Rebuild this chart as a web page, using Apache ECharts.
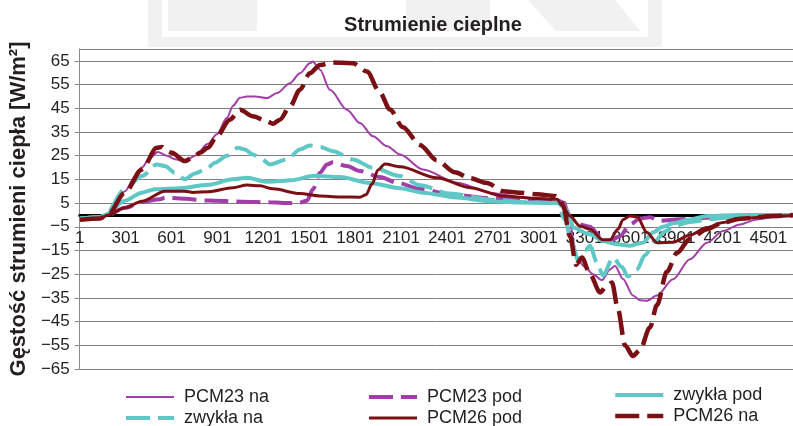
<!DOCTYPE html>
<html>
<head>
<meta charset="utf-8">
<script src="https://cdn.jsdelivr.net/npm/echarts@6/dist/echarts.min.js"></script>
<style>
html,body{margin:0;padding:0;background:#fff;}
#chart{width:793px;height:426px;}
</style>
</head>
<body>
<div id="chart"></div>
<script>
// time index (x) and heat flux density (y) pairs
const pcm23Na = [[1,-1.5],[132,-1],[184,0],[230,4],[295,10],[360,16],[406,20],[458,24],[511,26.5],[570,25],[622,23.5],[687,22.7],[753,25],[838,30],[896,34],[962,41],[1001,46],[1047,49.4],[1093,50],[1145,50],[1223,49.3],[1289,51.4],[1374,55.6],[1439,59.8],[1504,64],[1524,64.7],[1550,63],[1570,61.2],[1635,52.8],[1746,44.4],[1831,38.8],[1916,33.2],[2008,29],[2093,25.5],[2243,19.2],[2465,13.6],[2681,9.4],[2896,7.3],[3119,6.6],[3171,5.5],[3204,-2],[3223,-10],[3243,-17.9],[3302,-22],[3354,-25],[3413,-27.5],[3465,-23],[3498,-21.5],[3550,-27],[3615,-34],[3661,-36],[3707,-36.2],[3772,-34],[3877,-27.1],[3988,-18.7],[4099,-11.7],[4204,-6.8],[4315,-4],[4426,-1.9],[4531,-1],[4661,-0.5]];
const pcm23Pod = [[1,-1.5],[132,-1],[184,0],[295,3],[406,5.5],[524,6.6],[557,7.3],[655,6.9],[838,6.1],[1060,5.6],[1243,5.3],[1374,5.0],[1420,4.9],[1485,6],[1524,10.8],[1570,17.8],[1616,21.3],[1655,22.2],[1746,20.6],[1830,18.5],[1962,16],[2073,13.6],[2223,11],[2439,8.5],[2681,7],[2942,6.2],[3119,6],[3171,3],[3217,-2],[3269,-4],[3334,-5],[3400,-9],[3465,-11],[3530,-9],[3596,-4],[3661,-1.5],[3726,-1],[3792,-2.5],[3922,-1.8],[4184,-1],[4446,-0.5],[4661,-0.2]];
const zwyklaPod = [[1,-1.5],[132,-1],[164,0],[295,6],[406,9.4],[491,10.8],[655,11.3],[838,12.7],[1001,15],[1093,15.7],[1223,14],[1308,14.3],[1374,14.6],[1537,16.5],[1700,16],[1896,13.5],[2093,11.3],[2243,9.4],[2465,7.3],[2681,5.8],[2896,5.2],[3119,5],[3171,3],[3204,-1],[3223,-5.3],[3334,-8.2],[3419,-11],[3510,-12.4],[3596,-13],[3681,-11.7],[3746,-7.4],[3811,-5],[3877,-3.5],[3988,-1.9],[4099,-0.5],[4315,0],[4661,0]];
const zwyklaNa = [[1,-1.5],[132,-1],[164,0],[295,10.8],[406,16.4],[504,21.3],[557,20.6],[622,17.8],[687,15],[753,17.5],[831,19.5],[883,22],[962,25],[1034,28.3],[1079,27.6],[1132,25.5],[1191,23.4],[1243,21.3],[1354,23.4],[1439,27.6],[1504,29.3],[1570,28.7],[1655,26.9],[1785,23.4],[1916,19.9],[2093,16.4],[2223,12.5],[2419,9],[2681,6.5],[2942,5.3],[3119,5],[3171,-2],[3217,-12],[3256,-19],[3302,-15],[3334,-13],[3380,-20],[3419,-25.5],[3485,-18],[3543,-22],[3582,-26],[3642,-23],[3693,-17],[3759,-11],[3824,-7],[3890,-4.5],[3988,-3],[4118,-1.8],[4315,-0.7],[4661,0]];
const pcm26Pod = [[1,-2],[132,-1.5],[184,0],[295,3],[406,5.8],[557,10],[687,10],[740,9.5],[838,9.8],[1001,11.5],[1093,12.6],[1178,12.3],[1262,11],[1439,9],[1570,8],[1700,7.6],[1831,7.5],[1870,8.5],[1910,13],[1949,19],[1994,21.5],[2093,20.3],[2334,15.7],[2550,11.5],[2766,8],[2988,6.9],[3119,6.6],[3151,4],[3204,-0.5],[3269,-4.7],[3334,-6],[3419,-10.5],[3465,-10.5],[3517,-6],[3550,-2],[3596,-0.5],[3642,-0.8],[3707,-7.4],[3772,-11.7],[3877,-11.5],[3988,-8.5],[4099,-5.3],[4204,-3.2],[4315,-1.6],[4531,-0.5],[4661,-0.2]];
const pcm26Na = [[1,-2],[132,-1.5],[184,0],[295,9.4],[406,19.2],[504,28.3],[537,28.7],[570,26.9],[602,26.2],[687,22.7],[753,24.8],[785,26.2],[838,28.3],[896,33.2],[981,40.2],[1047,44.4],[1132,41.6],[1223,39.5],[1262,38.5],[1308,40.2],[1374,45.8],[1439,52.8],[1504,59.8],[1570,63.3],[1655,64.3],[1785,64],[1877,60.5],[1962,51.5],[2027,44.5],[2112,37],[2223,29.5],[2334,23],[2452,18],[2550,15.5],[2661,13.5],[2766,10],[2877,9.4],[2988,8.7],[3105,8],[3138,7],[3158,4],[3204,-9],[3243,-21],[3282,-18],[3334,-25],[3400,-32.7],[3445,-29.9],[3478,-28.5],[3517,-39.7],[3563,-55],[3615,-59.5],[3661,-57],[3726,-47.5],[3772,-38],[3837,-24],[3903,-16],[3988,-10],[4099,-6],[4204,-3.2],[4315,-1.6],[4531,-0.5],[4661,0]];

const seriesNames = ['PCM23 na','PCM23 pod','zwykła pod','zwykła na','PCM26 pod','PCM26 na'];
const xTickStep = 300;
const xMax = 4661;
const yMin = -65, yMax = 70, yStep = 10;

const PURPLE = '#a23ea8', CYAN = '#5fc8c6', DARKRED = '#7a1014';
const FONT = '"Liberation Sans", Arial, sans-serif';
const TXT = '#231f20';
const DASH = [24, 8];

const GRID = { left: 79, right: 0, top: 49, bottom: 57 };
const CHART_H = 426;
// pixel distance from grid bottom to the y=0 level (axis crosses at zero)
const plotH = CHART_H - GRID.top - GRID.bottom;
const zeroOffset = -plotH * (0 - yMin) / (yMax - yMin);

function mk(name, data, color, width, dashed) {
  return {
    name, type: 'line', data, showSymbol: false, symbol: 'none',
    smooth: 0.3, smoothMonotone: 'x',
    lineStyle: { color, width, type: dashed ? DASH : 'solid', cap: 'butt' },
    itemStyle: { color },
    emphasis: { disabled: true }, animation: false
  };
}

const chart = echarts.init(document.getElementById('chart'), null, { renderer: 'canvas' });
const legendBase = {
  orient: 'vertical', padding: 0, itemWidth: 48, itemHeight: 14, itemGap: 1, height: 80, width: 200,
  itemStyle: { opacity: 0 },
  lineStyle: { width: 'inherit', type: 'inherit', color: 'inherit' },
  textStyle: { fontFamily: FONT, fontSize: 18, color: TXT, lineHeight: 20, padding: [0,0,0,5] },
  selectedMode: false
};
chart.setOption({
  animation: false,
  backgroundColor: '#ffffff',
  graphic: [
    { type: 'rect', z: -30, shape: { x: 148, y: 0, width: 514, height: 47 }, style: { fill: '#f1f1f1' } },
    { type: 'rect', z: -29, shape: { x: 162, y: 0, width: 486, height: 37 }, style: { fill: '#ffffff' } },
    { type: 'rect', z: -28, shape: { x: 168, y: 0, width: 89, height: 31 }, style: { fill: '#f1f1f1' } },
    { type: 'rect', z: -28, shape: { x: 406, y: 0, width: 84, height: 31 }, style: { fill: '#f1f1f1' } },
    { type: 'polygon', z: -28, shape: { points: [[528,0],[615,0],[640,31],[556,31]] }, style: { fill: '#f1f1f1' } }
  ],
  title: {
    text: 'Strumienie cieplne', left: 428, top: 10, textAlign: 'center',
    textStyle: { fontFamily: FONT, fontSize: 20, fontWeight: 'bold', color: TXT }
  },
  legend: [
    Object.assign({}, legendBase, { left: 124, top: 387, data: [seriesNames[0], seriesNames[3]] }),
    Object.assign({}, legendBase, { left: 367, top: 387, data: [seriesNames[1], seriesNames[4]] }),
    Object.assign({}, legendBase, { left: 613, top: 385, data: [seriesNames[2], seriesNames[5]] })
  ],
  grid: GRID,
  xAxis: {
    type: 'value', min: 0, max: xMax, interval: xTickStep,
    position: 'bottom', offset: zeroOffset,
    axisLine: { show: true, onZero: false, lineStyle: { color: '#000', width: 3 } },
    axisTick: { show: false },
    splitLine: { show: false },
    axisLabel: {
      fontFamily: FONT, fontSize: 17, color: TXT, margin: 15, showMaxLabel: false,
      formatter: v => (v % xTickStep === 0 ? String(v + 1) : '')
    }
  },
  yAxis: {
    type: 'value', min: yMin, max: yMax, interval: yStep,
    name: 'Gęstość strumieni ciepła [W/m²]', nameLocation: 'middle', nameGap: 40,
    nameTextStyle: { fontFamily: FONT, fontSize: 22, fontWeight: 'bold', color: TXT },
    axisLine: { show: true, lineStyle: { color: '#8a8a8a', width: 1 } },
    axisTick: { show: true, length: 5, lineStyle: { color: '#8a8a8a' } },
    splitLine: { show: true, lineStyle: { color: '#7f7f7f', width: 1 } },
    axisLabel: {
      fontFamily: FONT, fontSize: 17, color: TXT, margin: 10, showMaxLabel: false,
      formatter: v => (v < 0 ? '\u2212' + Math.abs(v) : String(v))
    }
  },
  series: [
    mk(seriesNames[0], pcm23Na, PURPLE, 2, false),
    mk(seriesNames[1], pcm23Pod, PURPLE, 4, true),
    mk(seriesNames[2], zwyklaPod, CYAN, 4, false),
    mk(seriesNames[3], zwyklaNa, CYAN, 4, true),
    mk(seriesNames[4], pcm26Pod, DARKRED, 3, false),
    mk(seriesNames[5], pcm26Na, DARKRED, 4.5, true)
  ]
});
</script>
</body>
</html>
